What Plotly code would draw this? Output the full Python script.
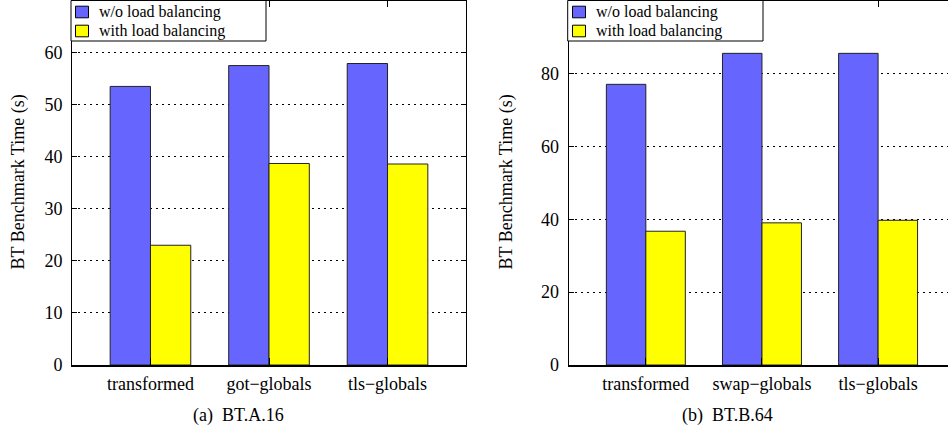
import plotly.graph_objects as go

# ---- data ----
cats_a = ["transformed", "got\u2212globals", "tls\u2212globals"]
wo_lb_a = [53.5, 57.5, 57.9]
with_lb_a = [23.0, 38.7, 38.6]

cats_b = ["transformed", "swap\u2212globals", "tls\u2212globals"]
wo_lb_b = [77.0, 85.5, 85.5]
with_lb_b = [36.7, 39.0, 39.7]

yticks_a = [0, 10, 20, 30, 40, 50, 60]
yticks_b = [0, 20, 40, 60, 80]

series_names = ["w/o load balancing", "with load balancing"]
captions = ["(a)\u2002BT.A.16", "(b)\u2002BT.B.64"]
ytitle = "BT Benchmark Time (s)"
BLUE = "#6666ff"
YELLOW = "#ffff00"
COLORS = [BLUE, YELLOW]
FONT = "Liberation Serif"

W, H = 948, 433

fig = go.Figure()

def add_bars(cats, wo, wl, xa, ya):
    for vals, name, col in zip([wo, wl], series_names, COLORS):
        fig.add_trace(go.Bar(x=cats, y=vals, name=name,
                             marker=dict(color=col, line=dict(color="#222222", width=1)),
                             xaxis=xa, yaxis=ya, showlegend=False))

add_bars(cats_a, wo_lb_a, with_lb_a, "x", "y")
add_bars(cats_b, wo_lb_b, with_lb_b, "x2", "y2")

ydom = [68 / H, 1 - 0.5 / H]
tickfont = dict(family=FONT, size=18, color="black")

xcommon = dict(type="category", showline=True, linecolor="black", linewidth=1.5, mirror="ticks",
               ticks="inside", ticklen=7, tickcolor="black", tickfont=tickfont, showgrid=False,
               zeroline=False, fixedrange=True, automargin=False, ticklabelstandoff=2)
ycommon = dict(showline=True, linecolor="black", linewidth=1, ticks="inside", ticklen=5,
               tickcolor="black", tickfont=tickfont, showgrid=True, gridcolor="black",
               griddash="2px,4px", gridwidth=1, zeroline=False, ticklabelstandoff=5,
               automargin=False, fixedrange=True)

fig.update_layout(
    template="none",
    width=W, height=H,
    margin=dict(l=0, r=0, t=0, b=0, autoexpand=False),
    paper_bgcolor="white", plot_bgcolor="white",
    barmode="group", bargap=0.32, bargroupgap=0,
    xaxis=dict(domain=[72 / W, 466 / W], range=[-0.662, 2.662], anchor="y", **xcommon),
    yaxis=dict(domain=ydom, range=[0, 70], tickvals=yticks_a, anchor="x", mirror="ticks", **ycommon),
    xaxis2=dict(domain=[568.5 / W, 1.0], range=[-0.666, 2.602], anchor="y2", **xcommon),
    yaxis2=dict(domain=ydom, range=[0, 100], tickvals=yticks_b, anchor="x2", mirror=False, **ycommon),
    showlegend=False,
)

# ---- legend boxes (drawn in paper pixels) ----
def px_x(v):
    return v / W

def px_y(v):
    return 1 - v / H

leg_font = dict(family=FONT, size=16, color="black")

def add_legend(x0, x1, y1, sw_x0, text_x, centers):
    fig.add_shape(type="rect", xref="paper", yref="paper", x0=px_x(x0), x1=px_x(x1),
                  y0=px_y(0.5), y1=px_y(y1), line=dict(color="black", width=1), fillcolor="white",
                  layer="above")
    for yc, name, col in zip(centers, series_names, COLORS):
        fig.add_shape(type="rect", xref="paper", yref="paper", x0=px_x(sw_x0), x1=px_x(sw_x0 + 13),
                      y0=px_y(yc - 5.8), y1=px_y(yc + 5.8), line=dict(color="black", width=1),
                      fillcolor=col, layer="above")
        fig.add_annotation(text=name, x=px_x(text_x), y=px_y(yc), xref="paper", yref="paper",
                           showarrow=False, font=leg_font, xanchor="left", yanchor="middle",
                           borderpad=0)

add_legend(71, 266, 41, 75.5, 98, [12.0, 31.0])
add_legend(567.7, 763, 41, 572.5, 594.5, [12.0, 31.0])

ann_font = dict(family=FONT, size=18, color="black")
for xc in (18, 506):
    fig.add_annotation(text=ytitle, textangle=-90, x=px_x(xc), y=px_y(182.5),
                       xref="paper", yref="paper", showarrow=False, font=ann_font,
                       xanchor="center", yanchor="middle")
for cap, xc in zip(captions, (238, 727)):
    fig.add_annotation(text=cap, x=px_x(xc), y=px_y(415), xref="paper", yref="paper",
                       showarrow=False, font=ann_font, xanchor="center", yanchor="middle")

fig.write_html("out.html", config=dict(displayModeBar=False))
